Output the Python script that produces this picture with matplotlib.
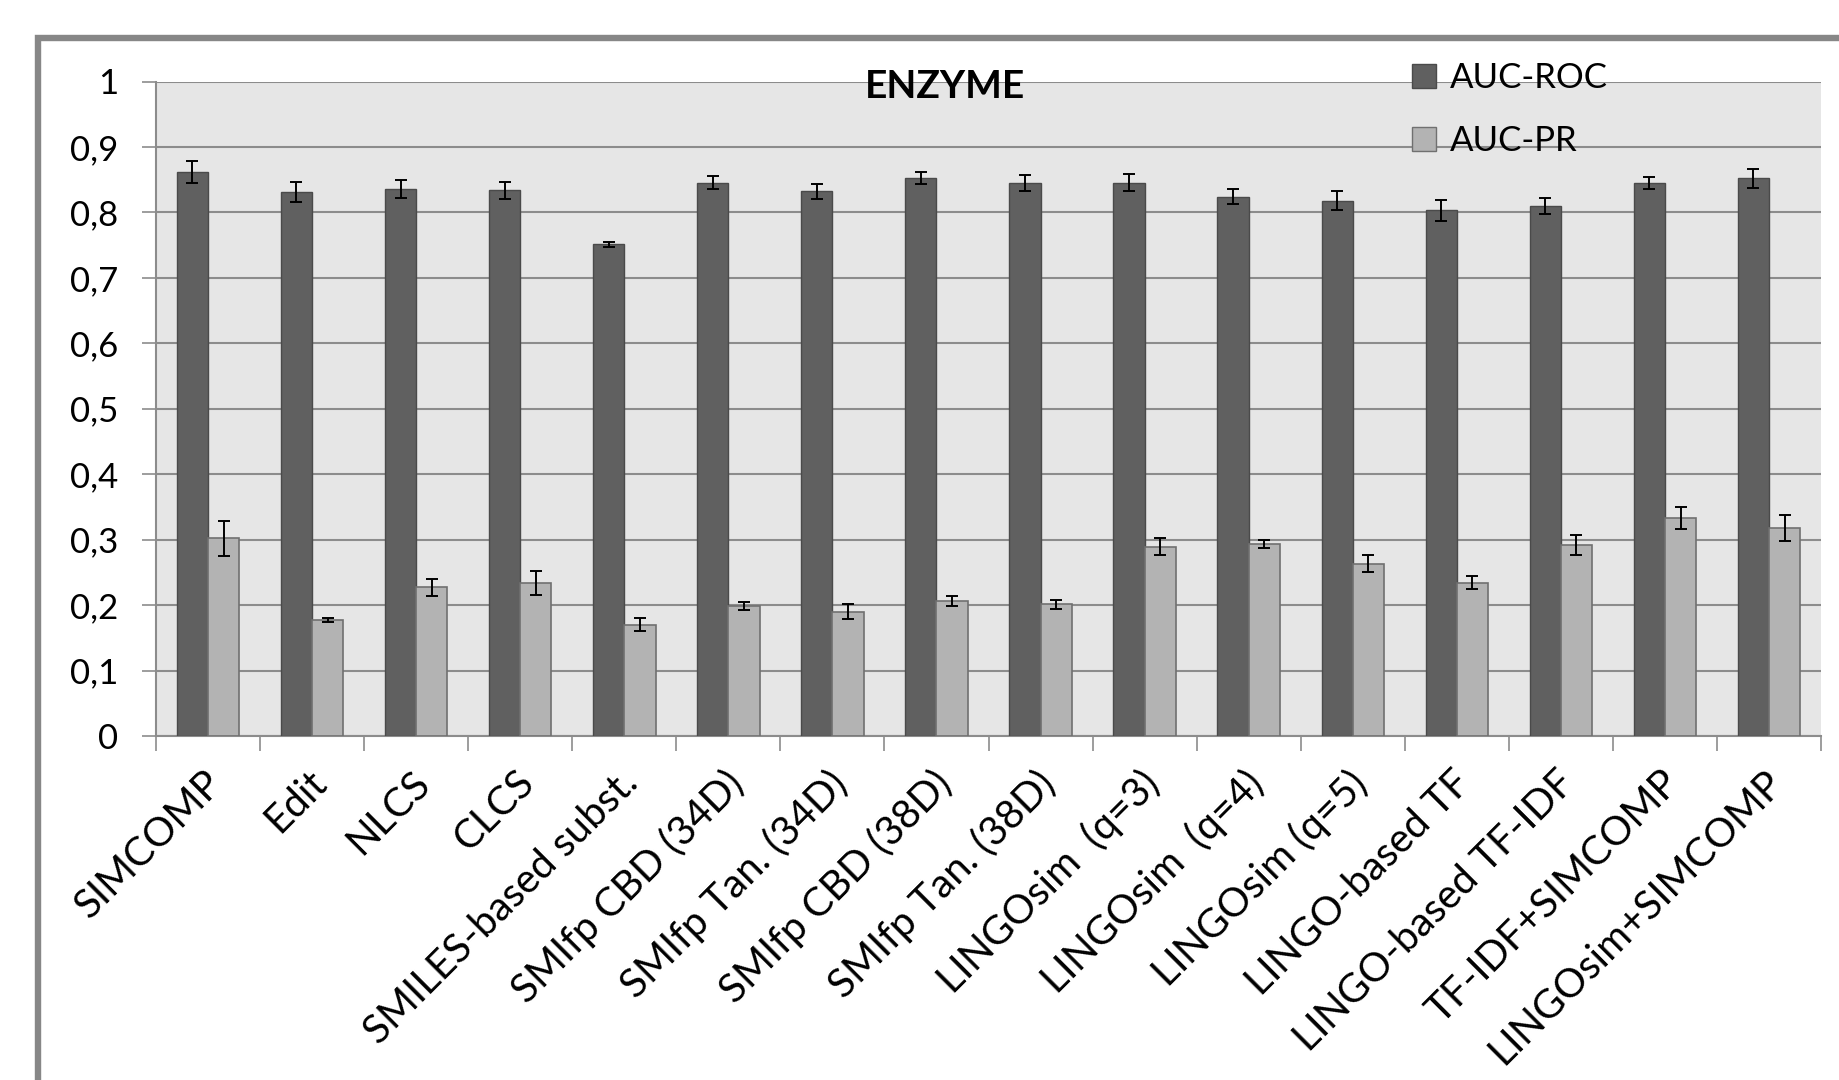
import numpy as np
import matplotlib
matplotlib.use("Agg")
import matplotlib.pyplot as plt
from matplotlib.patches import Patch, Rectangle
from matplotlib.transforms import ScaledTranslation

plt.rcParams['font.family'] = ['Lato', 'DejaVu Sans']

# data
methods = ["SIMCOMP", "Edit", "NLCS", "CLCS", "SMILES-based subst.",
           "SMIfp CBD (34D)", "SMIfp Tan. (34D)", "SMIfp CBD (38D)", "SMIfp Tan. (38D)",
           "LINGOsim  (q=3)", "LINGOsim  (q=4)", "LINGOsim (q=5)", "LINGO-based TF",
           "LINGO-based TF-IDF", "TF-IDF+SIMCOMP", "LINGOsim+SIMCOMP"]
auc_roc = [0.862, 0.831, 0.836, 0.834, 0.751, 0.845, 0.832, 0.852, 0.845,
           0.845, 0.824, 0.818, 0.803, 0.810, 0.845, 0.852]
auc_roc_err = [0.017, 0.015, 0.014, 0.013, 0.004, 0.010, 0.012, 0.009, 0.012,
               0.013, 0.011, 0.015, 0.016, 0.012, 0.009, 0.015]
auc_pr = [0.302, 0.177, 0.227, 0.234, 0.170, 0.199, 0.190, 0.206, 0.201,
          0.289, 0.294, 0.263, 0.234, 0.292, 0.333, 0.318]
auc_pr_err = [0.027, 0.003, 0.013, 0.018, 0.010, 0.006, 0.012, 0.008, 0.007,
              0.013, 0.006, 0.013, 0.010, 0.015, 0.017, 0.020]
yticks = [0, 0.1, 0.2, 0.3, 0.4, 0.5, 0.6, 0.7, 0.8, 0.9, 1]
ytick_labels = ["0", "0,1", "0,2", "0,3", "0,4", "0,5", "0,6", "0,7", "0,8", "0,9", "1"]

dark = '#606060'
light = '#b3b3b3'
grid = '#8c8c8c'

W, H = 1839, 1080
fig = plt.figure(figsize=(W / 100, H / 100), dpi=100)

# outer chart frame (runs off the right and bottom edges)
fig.patches.append(Rectangle((38 / W, -0.1), 1.2, 1 - 38 / H + 0.1,
                             transform=fig.transFigure, fill=False,
                             edgecolor='#878787', linewidth=4.6))

ax = fig.add_axes([156 / W, 1 - 736 / H, (1821 - 156) / W, (736 - 81.5) / H])
ax.set_facecolor('#e6e6e6')

x = np.arange(len(methods))
bw = 0.3
err_kw = dict(ecolor='black', elinewidth=1.4, capsize=4.5, capthick=1.4)
ax.bar(x - bw / 2, auc_roc, bw, yerr=auc_roc_err, color=dark,
       edgecolor='#4a4a4a', linewidth=1.0, error_kw=err_kw, zorder=3)
ax.bar(x + bw / 2, auc_pr, bw, yerr=auc_pr_err, color=light,
       edgecolor='#707070', linewidth=1.2, error_kw=err_kw, zorder=3)

ax.set_xlim(-0.5, len(methods) - 0.5)
ax.set_ylim(0, 1)
ax.set_yticks(yticks)
ax.set_yticklabels(ytick_labels, fontsize=25)
ax.yaxis.grid(True, color=grid, linewidth=1.5, zorder=0)
ax.tick_params(axis='y', length=10, width=1.2, color=grid, pad=17)

ax.set_xticks(x)
ax.set_xticklabels(methods, rotation=45, ha='right', va='top',
                   rotation_mode='anchor', fontsize=29)
ax.tick_params(axis='x', which='major', length=0, pad=25)
ax.set_xticks(np.arange(len(methods) + 1) - 0.5, minor=True)
ax.tick_params(axis='x', which='minor', length=11, width=1.2, color=grid)
shift = ScaledTranslation(-0.05, 0.07, fig.dpi_scale_trans)
for lab in ax.get_xticklabels():
    lab.set_transform(lab.get_transform() + shift)

for s in ['top', 'right']:
    ax.spines[s].set_visible(False)
for s in ['left', 'bottom']:
    ax.spines[s].set_color(grid)
    ax.spines[s].set_linewidth(1.5)

ax.text(0.474, 0.992, "ENZYME", transform=ax.transAxes, ha='center', va='center',
        fontsize=28, fontweight='bold')

handles = [Patch(facecolor=dark, edgecolor='#4a4a4a', label='AUC-ROC'),
           Patch(facecolor=light, edgecolor='#707070', label='AUC-PR')]
ax.legend(handles=handles, loc='upper left', bbox_to_anchor=(1412 / W, 1 - 62 / H),
          bbox_transform=fig.transFigure, frameon=False, fontsize=25,
          handlelength=0.7, handleheight=0.7, handletextpad=0.4,
          labelspacing=0.9, borderpad=0, borderaxespad=0)

fig.savefig('out.png', dpi=100, facecolor='white')
